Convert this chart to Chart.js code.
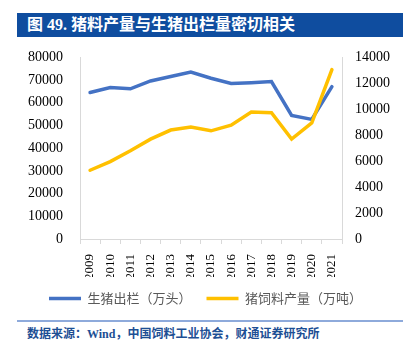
<!DOCTYPE html>
<html>
<head>
<meta charset="utf-8">
<script src="https://cdn.jsdelivr.net/npm/chart.js@4.4.1/dist/chart.umd.min.js"></script>
<style>
	body { margin: 0; background: #fff; width: 411px; height: 349px; position: relative; overflow: hidden; }
	#title { position: absolute; left: 17px; top: 13px; width: 386px; height: 24px; background: #0f4d9f; z-index: 2;
		color: #fff; font: bold 16px "Liberation Serif", "Noto Sans CJK SC", sans-serif; line-height: 24px;
		padding-left: 10px; box-sizing: border-box; white-space: nowrap; }
	#wrap { position: absolute; left: 0; top: 32px; width: 411px; height: 283px; }
	#sep { position: absolute; left: 17px; top: 320px; width: 386px; height: 2px; background: #8eaadb; }
	#source { position: absolute; left: 27px; top: 324px; color: #1d4f94;
		font: bold 12px "Liberation Serif", "Noto Sans CJK SC", sans-serif; white-space: nowrap; }
</style>
</head>
<body>
<div id="title">图 49. 猪料产量与生猪出栏量密切相关</div>
<div id="wrap"><canvas id="myChart"></canvas></div>
<div id="sep"></div>
<div id="source">数据来源：Wind，中国饲料工业协会，财通证券研究所</div>
<script>
// 年份
const years = ['2009', '2010', '2011', '2012', '2013', '2014', '2015', '2016', '2017', '2018', '2019', '2020', '2021']
// 生猪出栏（万头）- 左轴
const hogSlaughter = [64538, 66686, 66170, 69628, 71557, 73510, 70825, 68502, 68861, 69382, 54419, 52704, 67128]
// 猪饲料产量（万吨）- 右轴
const pigFeed = [5300, 5970, 6810, 7700, 8400, 8640, 8340, 8780, 9790, 9740, 7700, 8950, 13060]

const leftTicks = [0, 10000, 20000, 30000, 40000, 50000, 60000, 70000, 80000]
const rightTicks = [0, 2000, 4000, 6000, 8000, 10000, 12000, 14000]

let myChart
function init(){
	const ctx = document.getElementById('myChart').getContext('2d');
	const axisColor = '#d9d9d9'
	const tickFont = { family: '"Liberation Serif", "Times New Roman", serif', size: 14 }

	myChart = new Chart(ctx, {
		type: 'line',
		data: {
			labels: years,
			datasets: [{
				label: '生猪出栏（万头）',
				data: hogSlaughter,
				borderColor: '#4472c4',
				backgroundColor: '#4472c4',
				borderWidth: 3.5,
				borderCapStyle: 'round',
				pointRadius: 0,
				tension: 0,
				yAxisID: 'y',
				order: 1,
			}, {
				label: '猪饲料产量（万吨）',
				data: pigFeed,
				borderColor: '#ffc000',
				backgroundColor: '#ffc000',
				borderWidth: 3.5,
				borderCapStyle: 'round',
				pointRadius: 0,
				tension: 0,
				yAxisID: 'y1',
				order: 0,
			}],
		},
		options: {
			responsive: true,
			maintainAspectRatio: false,
			animation: false,
			layout: {
				padding: { top: 0, left: 0, right: 0, bottom: 0 }
			},
			plugins: {
				tooltip: { enabled: false },
				legend: {
					position: 'bottom',
					labels: {
						usePointStyle: true,
						pointStyle: 'line',
						pointStyleWidth: 32,
						boxHeight: 13,
						padding: 15,
						color: '#595959',
						font: { family: '"Noto Sans CJK SC", sans-serif', size: 13 },
						sort: (a, b) => a.datasetIndex - b.datasetIndex,
					}
				},
			},
			scales: {
				x: {
					offset: true,
					grid: {
						offset: true,
						drawOnChartArea: false,
						color: axisColor,
						tickLength: 5,
					},
					border: { color: axisColor },
					ticks: {
						minRotation: 90,
						maxRotation: 90,
						padding: 10,
						color: '#000',
						font: { family: tickFont.family, size: 13 },
					},
					afterFit: scale => { scale.height = 38 },
				},
				y: {
					position: 'left',
					min: 0,
					max: 80000,
					afterBuildTicks: scale => { scale.ticks = leftTicks.map(v => ({ value: v })) },
					grid: { drawOnChartArea: false, drawTicks: false },
					border: { color: axisColor },
					ticks: { padding: 17, color: '#000', font: tickFont, callback: v => String(v) },
					afterFit: scale => { scale.width = 80 },
				},
				y1: {
					position: 'right',
					min: 0,
					max: 14000,
					afterBuildTicks: scale => { scale.ticks = rightTicks.map(v => ({ value: v })) },
					grid: { drawOnChartArea: false, drawTicks: false },
					border: { color: axisColor },
					ticks: { padding: 13, color: '#000', font: tickFont, callback: v => String(v) },
					afterFit: scale => { scale.width = 69 },
				}
			}
		}
	});
}

init()
</script>
</body>
</html>
